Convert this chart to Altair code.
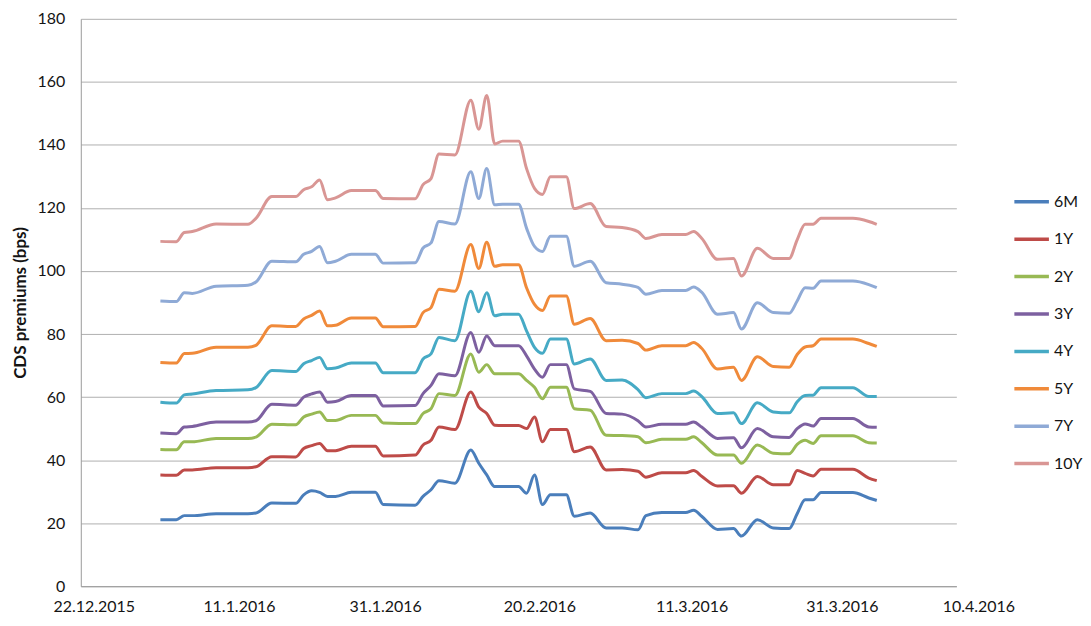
import altair as alt
import pandas as pd

# Observation dates (2016)
dates = ["2016-01-01","2016-01-03","2016-01-04","2016-01-05","2016-01-08","2016-01-12","2016-01-13","2016-01-15",
         "2016-01-18","2016-01-19","2016-01-20","2016-01-21","2016-01-22","2016-01-23","2016-01-25","2016-01-28",
         "2016-01-29","2016-02-02","2016-02-03","2016-02-04","2016-02-05","2016-02-07","2016-02-09","2016-02-10",
         "2016-02-11","2016-02-12","2016-02-13","2016-02-15","2016-02-16","2016-02-17","2016-02-18","2016-02-19",
         "2016-02-21","2016-02-22","2016-02-24","2016-02-26","2016-02-28","2016-03-01","2016-03-02","2016-03-04",
         "2016-03-07","2016-03-08","2016-03-09","2016-03-11","2016-03-13","2016-03-14","2016-03-16","2016-03-18",
         "2016-03-20","2016-03-21","2016-03-22","2016-03-23","2016-03-24","2016-03-28","2016-03-30","2016-03-31"]

s_6m = [21.1,21.1,22.4,22.4,23.0,23.0,23.2,26.4,26.3,29.0,30.3,29.8,28.5,28.5,29.8,29.8,25.9,25.7,28.5,30.6,
        33.5,32.7,43.2,39.0,35.3,31.6,31.6,31.6,29.5,35.3,25.9,29.0,29.0,22.2,23.2,18.5,18.5,17.9,22.4,23.4,
        23.4,24.1,22.2,18.0,18.3,15.9,21.1,18.5,18.3,23.0,27.4,27.4,29.7,29.7,28.0,27.2]
s_1y = [35.3,35.2,36.9,36.9,37.6,37.6,37.9,41.1,41.0,43.7,44.6,45.3,43.0,43.0,44.4,44.4,41.3,41.6,44.8,46.3,
        50.5,49.7,61.6,56.8,54.8,51.1,51.0,51.0,50.0,53.7,45.8,49.7,49.7,42.7,44.2,36.9,37.0,36.5,34.6,36.0,
        36.0,36.7,34.9,31.8,31.9,29.5,34.8,32.2,32.2,36.7,35.8,35.0,37.1,37.1,34.3,33.5]
s_2y = [43.4,43.3,45.8,45.8,46.9,46.9,47.3,51.4,51.2,53.7,54.6,55.3,52.6,52.6,54.2,54.2,51.8,51.6,54.8,56.3,
        61.1,60.5,73.7,67.9,70.3,67.4,67.4,67.4,65.3,63.1,59.5,63.1,63.1,56.3,55.8,47.9,47.8,47.4,45.5,46.6,
        46.6,47.4,45.6,41.6,41.6,39.0,44.8,42.2,42.0,45.0,46.3,45.3,47.7,47.7,45.5,45.4]
s_3y = [48.6,48.4,50.5,50.7,52.1,52.1,52.5,57.7,57.4,60.0,61.0,61.6,58.4,58.6,60.5,60.5,57.2,57.3,61.1,63.7,
        67.4,66.8,80.5,74.2,79.4,76.3,76.3,76.3,73.1,68.9,66.3,70.3,70.3,62.6,61.8,54.8,54.6,52.5,50.5,51.4,
        51.4,52.1,50.5,46.9,47.1,43.9,50.0,47.4,47.2,50.0,51.5,50.8,53.2,53.2,50.5,50.4]
s_4y = [58.4,58.1,60.7,61.0,62.1,62.3,63.0,68.4,68.1,70.6,71.6,72.6,69.0,69.2,70.8,70.8,67.7,67.7,72.1,73.7,
        78.9,77.9,93.6,87.1,93.1,85.8,86.3,86.3,81.0,75.8,73.9,78.4,78.4,70.5,72.1,65.3,65.4,62.4,59.8,61.1,
        61.1,61.9,60.2,54.8,55.0,51.6,58.2,55.3,55.0,58.5,60.5,60.6,63.0,63.0,60.2,60.2]
s_5y = [71.0,70.8,73.8,73.9,75.8,75.8,76.4,82.6,82.4,84.8,85.9,87.3,82.6,82.8,85.1,85.1,82.3,82.4,86.8,88.4,
        94.2,93.6,108.4,100.8,109.1,101.5,102.0,102.0,94.7,89.4,87.5,92.1,92.1,83.1,84.9,77.9,78.0,77.0,74.9,76.3,
        76.3,77.3,75.5,68.9,69.5,65.3,72.8,69.7,69.5,73.5,75.9,76.3,78.4,78.4,77.0,76.1]
s_7y = [90.5,90.3,93.1,92.9,95.2,95.5,96.5,103.1,102.9,105.3,106.2,107.8,102.6,103.1,105.3,105.3,102.5,102.6,107.3,108.9,
        115.7,114.9,131.5,123.0,132.5,121.0,121.2,121.2,113.6,107.8,106.2,111.0,111.0,101.5,103.1,96.3,95.8,94.8,92.6,93.8,
        93.8,94.9,93.3,86.3,86.8,81.6,89.9,86.8,86.6,90.5,94.7,94.5,96.8,96.8,95.7,94.7]
s_10y = [109.4,109.3,112.2,112.5,114.9,114.8,116.7,123.6,123.6,125.8,126.7,128.9,122.6,123.2,125.5,125.5,123.0,122.9,127.4,129.3,
         137.1,136.8,154.2,145.0,155.7,140.3,141.2,141.2,132.5,126.2,124.3,129.9,129.9,119.8,121.4,114.1,113.8,112.5,110.3,111.6,
         111.6,112.5,110.4,103.7,104.0,98.4,107.2,104.0,104.0,109.9,114.8,114.8,116.7,116.7,115.7,114.8]

series_names = ["6M", "1Y", "2Y", "3Y", "4Y", "5Y", "7Y", "10Y"]
series_values = [s_6m, s_1y, s_2y, s_3y, s_4y, s_5y, s_7y, s_10y]
colors = ["#4A7EBB", "#BE4B48", "#98B954", "#7D60A0", "#46AAC5", "#F08A3A", "#8FAAD6", "#D99694"]

axis_start = "2015-12-22"
tick_days = [0, 20, 40, 60, 80, 100, 110]
y_ticks = [0, 20, 40, 60, 80, 100, 120, 140, 160, 180]

base = pd.Timestamp(axis_start)
rows = []
for name, vals in zip(series_names, series_values):
    for d, v in zip(dates, vals):
        rows.append({"day": (pd.Timestamp(d) - base).days, "date": d, "series": name, "value": v})
df = pd.DataFrame(rows)

label_shift = {0: 13, 20: -1, 40: -14, 60: -19, 80: -26, 100: -35, 110: 22}
offset_cond = {"condition": [{"test": f"datum.value == {k}", "value": v} for k, v in label_shift.items()],
               "value": 0}

FONT = "Lato"
TXT = "#141414"

chart = alt.Chart(df).mark_line(interpolate="monotone", strokeWidth=3).encode(
    x=alt.X("day:Q",
            scale=alt.Scale(domain=[0, 110], nice=False, zero=False),
            axis=alt.Axis(values=tick_days, title=None, grid=False, ticks=False,
                          labelExpr="timeFormat(datetime(2015, 11, 22 + datum.value), '%-d.%-m.%Y')",
                          labelOffset=offset_cond, labelPadding=12, labelFlush=False,
                          labelOverlap=False, domainColor="#9a9a9a")),
    y=alt.Y("value:Q",
            scale=alt.Scale(domain=[0, 180], nice=False),
            axis=alt.Axis(values=y_ticks, title="CDS premiums (bps)", ticks=False,
                          labelPadding=16, titlePadding=8, gridColor="#b0b0b0",
                          domainColor="#9a9a9a", titleFontWeight="bold", titleFontSize=17)),
    color=alt.Color("series:N", sort=series_names,
                    scale=alt.Scale(domain=series_names, range=colors),
                    legend=alt.Legend(title=None, orient="none", legendX=934, legendY=164,
                                      symbolType="stroke", symbolSize=1200, symbolStrokeWidth=3.5,
                                      labelFontSize=16, labelOffset=3, rowPadding=9.5)),
    detail="series:N",
    order=alt.Order("day:Q"),
).properties(
    width=878, height=569,
    padding={"left": 3, "top": 2, "right": 0, "bottom": 0},
).configure_view(strokeWidth=0).configure_axis(
    labelFont=FONT, titleFont=FONT, labelFontSize=16, labelColor=TXT, titleColor=TXT, domainWidth=1,
).configure_legend(labelFont=FONT, labelColor=TXT)

chart.save("out.html", embed_options={"renderer": "svg", "actions": False})
